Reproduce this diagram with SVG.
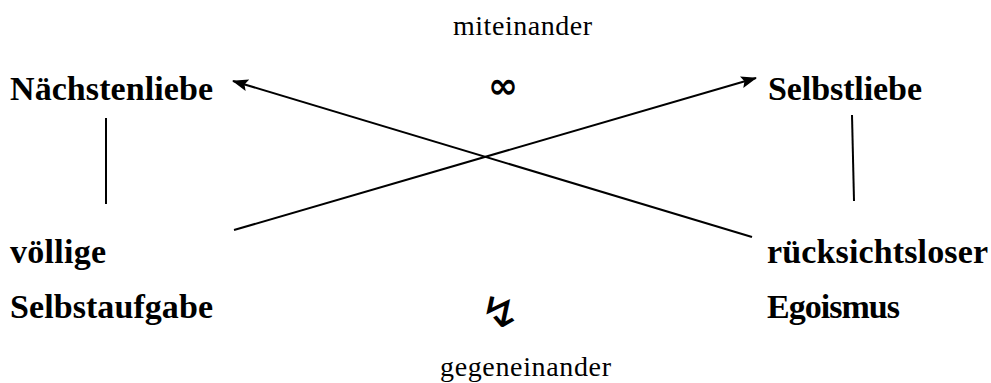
<svg xmlns="http://www.w3.org/2000/svg" width="991" height="383" viewBox="0 0 991 383">
<style>
.b{font-family:"Liberation Serif","Times New Roman",serif;font-weight:bold;font-size:34px;fill:#000}
.r{font-family:"Liberation Serif","Times New Roman",serif;font-size:28px;fill:#000}
.s{font-family:"DejaVu Sans",sans-serif;fill:#000}
.ln{stroke:#000;stroke-width:2;fill:none}
</style>
<defs>
<marker id="ah" markerWidth="16" markerHeight="14" refX="15" refY="6" orient="auto" markerUnits="userSpaceOnUse" viewBox="0 0 16 12">
<path d="M0,0 L16,6 L0,12 L3,6 z" fill="#000"/>
</marker>
</defs>
<g id="lbl-mit"><text class="r" x="453" y="35" textLength="139">miteinander</text></g>
<g id="lbl-gegen"><text class="r" x="440" y="376" textLength="171">gegeneinander</text></g>
<g id="sym-inf"><text class="s" x="503" y="98" font-size="36" text-anchor="middle" font-weight="bold">∞</text></g>
<g id="sym-bolt"><text class="s" x="500" y="327" font-size="42" text-anchor="middle" transform="translate(500,0) scale(1.2,1) translate(-500,0)">↯</text></g>
<g id="n1"><text class="b" x="10" y="100" textLength="203">Nächstenliebe</text></g>
<g id="n2"><text class="b" x="768" y="100" textLength="154">Selbstliebe</text></g>
<g id="n3"><text class="b" x="10" y="263" textLength="96">völlige</text></g>
<g id="n4"><text class="b" x="10" y="318" textLength="203">Selbstaufgabe</text></g>
<g id="n5"><text class="b" x="767" y="263" textLength="221">rücksichtsloser</text></g>
<g id="n6"><text class="b" x="767" y="318" textLength="133">Egoismus</text></g>
<g id="connectors">
<line class="ln" x1="106" y1="118" x2="106" y2="204"/>
<line class="ln" x1="852" y1="115" x2="854" y2="201"/>
<line class="ln" x1="752" y1="237" x2="233" y2="81" marker-end="url(#ah)"/>
<line class="ln" x1="234" y1="230" x2="756" y2="78" marker-end="url(#ah)"/>
</g>
</svg>
